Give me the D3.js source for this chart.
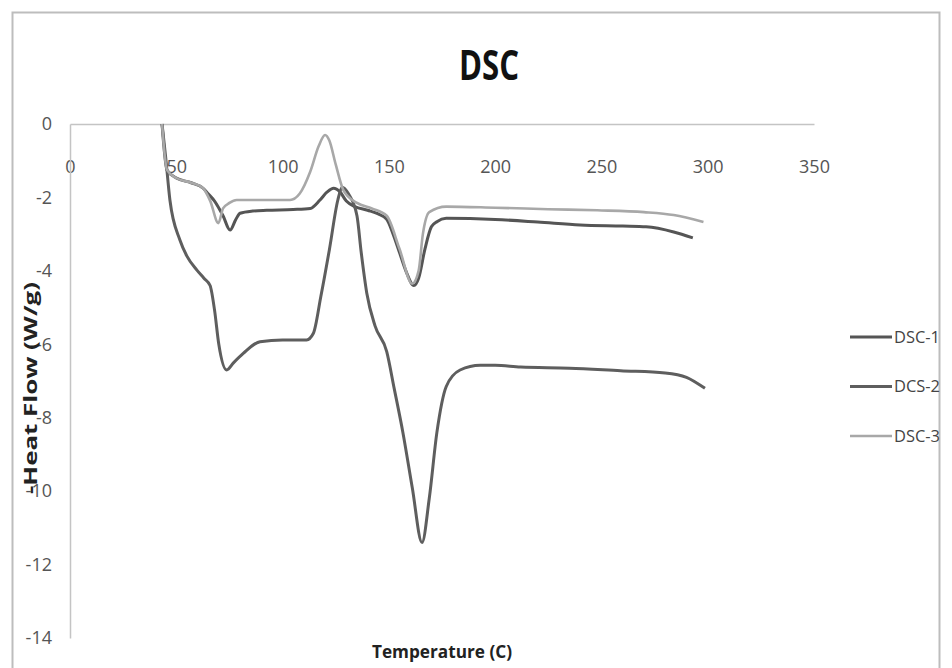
<!DOCTYPE html>
<html>
<head>
<meta charset="utf-8">
<script src="https://cdn.jsdelivr.net/npm/d3@7"></script>
<style>
  body { margin: 0; background: #fff; }
  text { font-family: "Liberation Sans Narrow", "Open Sans", sans-serif; }
</style>
</head>
<body>
<script>
var ancho = 952, alto = 668;

// datos: temperatura (C) y flujo de calor (W/g)
var temp1 = [43.3, 45.6, 50, 57, 62.6, 65, 68, 72, 75.3, 78, 80, 86, 92.6, 105, 113, 117.6, 121, 124, 127, 130, 134, 140, 145, 149, 152, 155, 158, 161.8, 164, 167, 170, 172.6, 177, 200, 220, 240, 260, 271, 284, 293];
var flujo1 = [0, -1.25, -1.47, -1.6, -1.75, -1.9, -2.1, -2.5, -2.89, -2.6, -2.43, -2.37, -2.35, -2.33, -2.3, -2.07, -1.85, -1.75, -1.85, -2.1, -2.25, -2.35, -2.45, -2.6, -3.0, -3.5, -4.0, -4.4, -4.2, -3.4, -2.8, -2.66, -2.57, -2.6, -2.67, -2.75, -2.78, -2.8, -2.94, -3.1];

var temp2 = [43.3, 45, 47, 51.7, 55, 59.7, 63, 65.9, 68, 70, 73.7, 77, 81.5, 89.4, 100, 111.3, 114.5, 118, 122, 126, 128, 131, 135, 137, 139.6, 143.5, 149, 152.5, 156.6, 161, 165.6, 169, 172.6, 177, 183.5, 193, 200, 212, 235, 259, 280, 290, 298.7];
var flujo2 = [0, -0.9, -2.07, -3.16, -3.6, -3.98, -4.2, -4.4, -5.07, -6.0, -6.7, -6.5, -6.25, -5.93, -5.88, -5.88, -5.7, -4.7, -3.43, -2.07, -1.72, -1.9, -2.5, -3.5, -4.6, -5.5, -6.2, -7.2, -8.4, -9.9, -11.4, -10.2, -8.4, -7.15, -6.7, -6.57, -6.57, -6.62, -6.65, -6.72, -6.78, -6.9, -7.2];

var temp3 = [43.3, 45.6, 50, 57, 62.6, 66, 69.8, 72, 75, 78.4, 90, 103.5, 108, 113, 117, 120, 122, 125, 128.6, 135, 142, 149, 155, 161, 164, 166, 169, 177, 200, 225, 248, 270, 284, 298];
var flujo3 = [0, -1.25, -1.47, -1.6, -1.75, -2.1, -2.7, -2.3, -2.15, -2.07, -2.07, -2.07, -1.9, -1.3, -0.6, -0.3, -0.45, -1.1, -1.8, -2.15, -2.3, -2.5, -3.4, -4.35, -4.0, -3.0, -2.4, -2.25, -2.28, -2.32, -2.35, -2.4, -2.48, -2.67];

var series = ["DSC-1", "DCS-2", "DSC-3"];
var colores = ["#555555", "#5e5e5e", "#a8a8a8"];
var grosores = [3, 3, 2.6];

var xTicks = [0, 50, 100, 150, 200, 250, 300, 350];
var yTicks = [0, -2, -4, -6, -8, -10, -12, -14];

var datos = [
  d3.zip(temp1, flujo1),
  d3.zip(temp2, flujo2),
  d3.zip(temp3, flujo3)
];

var svg = d3.select("body")
  .append("svg")
  .attr("width", ancho)
  .attr("height", alto);

// marco exterior
svg.append("rect")
  .attr("x", 12.5)
  .attr("y", 12.5)
  .attr("width", 927)
  .attr("height", 670)
  .attr("fill", "none")
  .attr("stroke", "#bdbdbd")
  .attr("stroke-width", 2);

// escalas
var escalaX = d3.scaleLinear().domain([0, 350]).range([70, 814]);
var escalaY = d3.scaleLinear().domain([-14, 0]).range([638, 124]);

// eje x (arriba, en y = 0)
var ejeX = svg.append("g")
  .attr("transform", "translate(0," + escalaY(0) + ")")
  .call(d3.axisBottom(escalaX).tickValues(xTicks).tickSize(0).tickPadding(36));

// eje y
var ejeY = svg.append("g")
  .attr("transform", "translate(" + escalaX(0) + ",0)")
  .call(d3.axisLeft(escalaY).tickValues(yTicks).tickSize(0).tickPadding(18)
    .tickFormat(function(d){ return d; }));

[ejeX, ejeY].forEach(function(g){
  g.select(".domain").attr("stroke", "#c4c4c4").attr("stroke-width", 1.5);
  g.selectAll("text")
    .attr("fill", "#555")
    .style("font-size", "18px")
    .style("font-family", "'Liberation Sans Narrow', 'Open Sans', sans-serif");
});

// lineas
var linea = d3.line()
  .x(function(d){ return escalaX(d[0]); })
  .y(function(d){ return escalaY(d[1]); })
  .curve(d3.curveMonotoneX);

svg.selectAll("path.serie")
  .data(datos)
  .enter()
  .append("path")
  .attr("class", "serie")
  .attr("d", linea)
  .attr("fill", "none")
  .attr("stroke", function(d, i){ return colores[i]; })
  .attr("stroke-width", function(d, i){ return grosores[i]; })
  .attr("stroke-linejoin", "round");

// titulo
svg.append("text")
  .attr("x", 489)
  .attr("y", 80)
  .attr("text-anchor", "middle")
  .attr("font-weight", "bold")
  .attr("font-size", 42)
  .attr("textLength", 60)
  .attr("lengthAdjust", "spacingAndGlyphs")
  .attr("fill", "#111")
  .text("DSC");

// titulo eje x
svg.append("text")
  .attr("x", 442)
  .attr("y", 658)
  .attr("text-anchor", "middle")
  .attr("font-weight", "bold")
  .attr("font-size", 18)
  .attr("textLength", 140)
  .attr("lengthAdjust", "spacingAndGlyphs")
  .attr("fill", "#222")
  .text("Temperature (C)");

// titulo eje y
svg.append("text")
  .attr("transform", "translate(37,388) rotate(-90)")
  .attr("text-anchor", "middle")
  .attr("font-weight", "bold")
  .attr("font-size", 18)
  .attr("textLength", 212)
  .attr("lengthAdjust", "spacingAndGlyphs")
  .attr("fill", "#222")
  .text("-Heat  Flow  (W/g)");

// leyenda
var leyenda = svg.selectAll("g.leyenda")
  .data(series)
  .enter()
  .append("g")
  .attr("class", "leyenda")
  .attr("transform", function(d, i){ return "translate(850," + (337 + i * 49.5) + ")"; });

leyenda.append("line")
  .attr("x1", 0)
  .attr("x2", 42)
  .attr("stroke", function(d, i){ return colores[i]; })
  .attr("stroke-width", function(d, i){ return grosores[i]; });

leyenda.append("text")
  .attr("x", 44)
  .attr("dy", "0.35em")
  .attr("font-size", 16)
  .attr("textLength", 46)
  .attr("lengthAdjust", "spacingAndGlyphs")
  .attr("fill", "#444")
  .text(function(d){ return d; });
</script>
</body>
</html>
